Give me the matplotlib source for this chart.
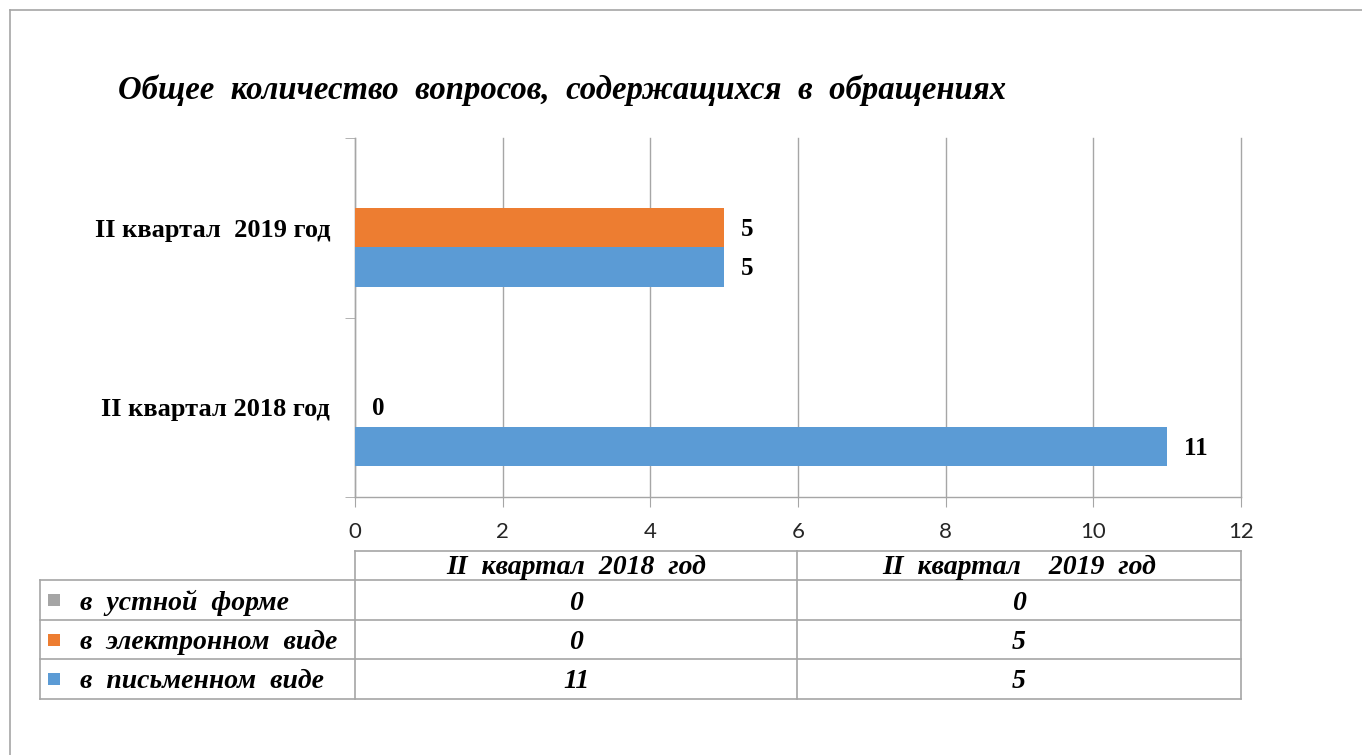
import matplotlib
matplotlib.use("Agg")
import matplotlib.pyplot as plt
from matplotlib.lines import Line2D
from matplotlib.patches import Rectangle

# ---- data ----
categories = ["II квартал 2018 год", "II квартал  2019 год"]
table_headers = ["II  квартал  2018  год", "II  квартал    2019  год"]
series_names = ["в  устной  форме", "в  электронном  виде", "в  письменном  виде"]
ustno = [0, 0]
elektron = [0, 5]
pismenno = [11, 5]
xticks = [0, 2, 4, 6, 8, 10, 12]
title = "Общее  количество  вопросов,  содержащихся  в  обращениях"

C_BLUE = "#5B9BD5"
C_ORANGE = "#ED7D31"
C_GRAY = "#A5A5A5"
LINE = "#A6A6A6"
SERIF = "Liberation Serif"

W, H = 1362, 755
fig = plt.figure(figsize=(W / 100, H / 100), dpi=100)

def fx(px):
    return px / W

def fy(py):
    return 1 - py / H

ax = fig.add_axes([fx(355), fy(497), fx(1241) - fx(355), fy(138) - fy(497)])

ypos = list(range(len(categories)))
h = 0.22
ax.barh([y - h for y in ypos], pismenno, height=h, color=C_BLUE, zorder=3)
ax.barh([y for y in ypos], elektron, height=h, color=C_ORANGE, zorder=3)
ax.barh([y + h for y in ypos], ustno, height=h, color=C_GRAY, zorder=3)

# data labels
for y, v in zip(ypos, pismenno):
    ax.annotate(str(v), (v, y - h), xytext=(12, -1), textcoords="offset points",
                va="center", ha="left", fontsize=18, fontweight="bold", family=SERIF)
for y, v in zip(ypos, elektron):
    ax.annotate(str(v), (v, y), xytext=(12, -1), textcoords="offset points",
                va="center", ha="left", fontsize=18, fontweight="bold", family=SERIF)

ax.set_xlim(0, 12)
ax.set_ylim(-0.5, len(categories) - 0.5)
ax.set_xticks(xticks)
ax.set_xticklabels([str(t) for t in xticks], fontsize=16, family="Lato", color="#262626")
ax.tick_params(axis="x", length=7, color=LINE, pad=11)
ax.set_yticks(ypos)
ax.set_yticklabels(categories, fontsize=19, fontweight="bold", family=SERIF)
ax.tick_params(axis="y", which="major", length=0, pad=18)
ax.set_yticks([-0.5, 0.5, 1.5], minor=True)
ax.tick_params(axis="y", which="minor", length=7, color=LINE)
ax.grid(axis="x", color=LINE, linewidth=1, zorder=0)
for gl in ax.get_xgridlines():
    gl.set_clip_on(False)
for s in ["top", "right"]:
    ax.spines[s].set_visible(False)
for s in ["left", "bottom"]:
    ax.spines[s].set_color(LINE)
    ax.spines[s].set_linewidth(1)

# title
fig.text(fx(118), fy(90), title, fontsize=23.6, fontweight="bold", style="italic",
         family=SERIF, ha="left", va="center")

# outer frame
fig.add_artist(Line2D([fx(10), fx(10)], [fy(10), 0], color=LINE, lw=1.2, transform=fig.transFigure))
fig.add_artist(Line2D([fx(10), 1], [fy(10), fy(10)], color=LINE, lw=1.2, transform=fig.transFigure))

# data table
col_x = [40, 355, 797, 1241]
row_y = [551, 580, 620, 659, 699]

def hline(x0, x1, y):
    fig.add_artist(Line2D([fx(x0), fx(x1)], [fy(y), fy(y)], color=LINE, lw=1.2, transform=fig.transFigure))

def vline(x, y0, y1):
    fig.add_artist(Line2D([fx(x), fx(x)], [fy(y0), fy(y1)], color=LINE, lw=1.2, transform=fig.transFigure))

hline(col_x[1], col_x[3], row_y[0])
for y in row_y[1:]:
    hline(col_x[0], col_x[3], y)
vline(col_x[0], row_y[1], row_y[-1])
for x in col_x[1:]:
    vline(x, row_y[0], row_y[-1])

tkw = dict(fontsize=20, fontweight="bold", style="italic", family=SERIF, va="center")
for j, hdr in enumerate(table_headers):
    fig.text(fx((col_x[j + 1] + col_x[j + 2]) / 2), fy((row_y[0] + row_y[1]) / 2 + 2), hdr, ha="center", **tkw)

rows = [ustno, elektron, pismenno]
colors = [C_GRAY, C_ORANGE, C_BLUE]
for i, (name, vals, c) in enumerate(zip(series_names, rows, colors)):
    yc = (row_y[i + 1] + row_y[i + 2]) / 2
    fig.add_artist(Rectangle((fx(48), fy(yc + 6)), fx(12), fy(yc - 6) - fy(yc + 6),
                             facecolor=c, edgecolor="none", transform=fig.transFigure))
    fig.text(fx(80), fy(yc + 3), name, ha="left", **tkw)
    for j, v in enumerate(vals):
        fig.text(fx((col_x[j + 1] + col_x[j + 2]) / 2), fy(yc + 3), str(v), ha="center", **tkw)

fig.savefig("out.png", dpi=100)
